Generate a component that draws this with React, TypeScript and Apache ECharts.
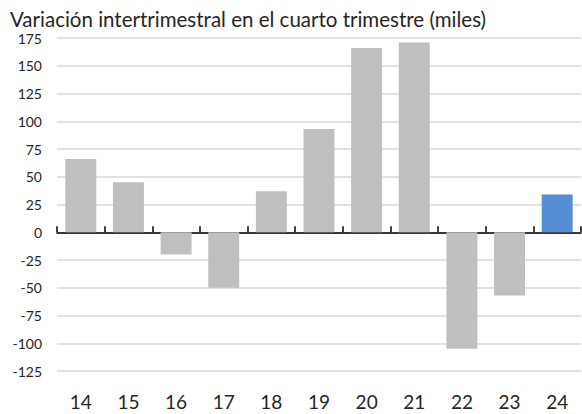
import React, { useEffect, useRef } from "react";
import * as echarts from "echarts";

const title = "Variación intertrimestral en el cuarto trimestre (miles)";
const categories = ["14", "15", "16", "17", "18", "19", "20", "21", "22", "23", "24"];
const values = [66, 45, -20, -50, 37, 93, 166, 171, -105, -57, 34];
const highlightIndex = 10;
const yMin = -125;
const yMax = 175;
const yInterval = 25;

const FONT = "Lato, 'Liberation Sans', sans-serif";

export default function App() {
  const ref = useRef<HTMLDivElement>(null);
  useEffect(() => {
    if (!ref.current) return;
    const chart = echarts.init(ref.current, null, { renderer: "svg" });
    chart.setOption({
      animation: false,
      backgroundColor: "#ffffff",
      title: {
        text: title,
        left: 5,
        top: 3,
        textStyle: { fontFamily: FONT, fontSize: 20.5, fontWeight: "normal", color: "#262626" },
      },
      grid: { left: 57, right: 1, top: 38, bottom: 43, containLabel: false },
      xAxis: [
        {
          type: "category",
          data: categories,
          position: "bottom",
          axisLine: { onZero: true, lineStyle: { color: "#000000", width: 1.5 } },
          axisTick: { show: true, inside: true, length: 6, lineStyle: { color: "#000000", width: 1.5 } },
          axisLabel: { show: false },
          splitLine: { show: false },
        },
        {
          type: "category",
          data: categories,
          position: "bottom",
          axisLine: { show: false, onZero: false },
          axisTick: { show: false },
          axisLabel: { show: true, margin: 21, fontFamily: FONT, fontSize: 19, color: "#262626" },
          splitLine: { show: false },
        },
      ],
      yAxis: {
        type: "value",
        min: yMin,
        max: yMax,
        interval: yInterval,
        axisLine: { show: false },
        axisTick: { show: false },
        axisLabel: { margin: 15, fontFamily: FONT, fontSize: 14, color: "#262626" },
        splitLine: { lineStyle: { color: "#D9D9D9", width: 1.5 } },
      },
      series: [
        {
          type: "bar",
          xAxisIndex: 0,
          barWidth: "65%",
          data: values.map((v, i) => ({
            value: v,
            itemStyle: { color: i === highlightIndex ? "#558ED5" : "#BFBFBF" },
          })),
        },
      ],
    });
    return () => chart.dispose();
  }, []);
  return <div ref={ref} style={{ width: 582, height: 414, position: "absolute", left: 0, top: 0 }} />;
}
